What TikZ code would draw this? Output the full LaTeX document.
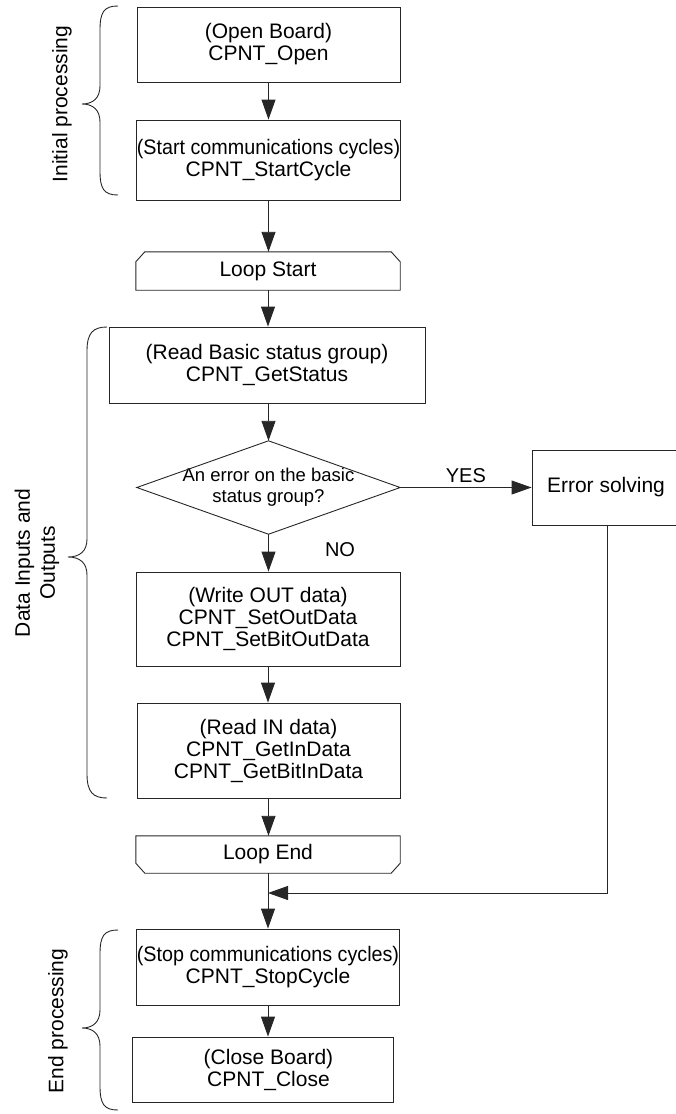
\documentclass[tikz,border=0pt]{standalone}
\usepackage{fontspec}
\setmainfont{Liberation Sans}
\usepackage{graphicx}
\usetikzlibrary{arrows.meta,calc}
\newcommand\bxfont{\fontsize{21}{22}\selectfont}
\newcommand\dfont{\fontsize{18.5}{21}\selectfont}
\newcommand\sqz[1]{\scalebox{0.94}[1]{#1}}
\begin{document}
\begin{tikzpicture}[x=1pt,y=-1pt,
  box/.style={draw=black!85,line width=0.9pt,rectangle,inner sep=0pt,align=center,font=\bxfont},
  ghost/.style={rectangle,inner sep=0pt,align=center,font=\bxfont},
  arr/.style={draw=black!85,line width=0.9pt,-{Triangle[length=20pt,width=14pt]}},
  ln/.style={draw=black!85,line width=0.9pt},
  brace/.style={draw=black!85,line width=0.9pt},
  side/.style={rotate=90,font=\bxfont,align=center},
  lbl/.style={font=\fontsize{20}{22}\selectfont}]
\useasboundingbox (0,0) rectangle (676,1114);

% boxes
\node[box,minimum width=263pt,minimum height=75pt] (b1) at (268.5,44.5) {(Open Board)\\CPNT\_Open};
\node[box,minimum width=263pt,minimum height=80pt] (b2) at (268.5,160) {\sqz{(Start communications cycles)}\\CPNT\_StartCycle};
\node[ghost,minimum width=264pt,minimum height=38pt] (ls) at (268,271) {Loop Start};
\node[box,minimum width=316pt,minimum height=76pt] (b3) at (267,365) {(Read Basic status group)\\CPNT\_GetStatus};
\node[ghost,font=\dfont,minimum width=263pt,minimum height=93pt] (dia) at (268.5,487.5) {An error on the basic\\status group?};
\node[box,minimum width=148pt,minimum height=75pt] (err) at (606,487.5) {Error solving};
\node[box,minimum width=264pt,minimum height=94pt] (b4) at (268,619) {(Write OUT data)\\CPNT\_SetOutData\\CPNT\_SetBitOutData};
\node[box,minimum width=263pt,minimum height=95pt] (b5) at (268.5,750.5) {(Read IN data)\\CPNT\_GetInData\\CPNT\_GetBitInData};
\node[ghost,minimum width=264pt,minimum height=37pt] (le) at (268,854.5) {Loop End};
\node[box,minimum width=262pt,minimum height=76pt] (stop) at (268,967) {\sqz{(Stop communications cycles)}\\CPNT\_StopCycle};
\node[box,minimum width=261pt,minimum height=65pt] (close) at (262.5,1069.5) {};
\node[ghost] (closetxt) at (268.5,1069.5) {(Close Board)\\CPNT\_Close};

% special shapes
\draw[ln] (ls.south west) -- ($(ls.north west)+(0,10)$) -- ($(ls.north west)+(9,0)$) -- ($(ls.north east)+(-9,0)$) -- ($(ls.north east)+(0,10)$) -- (ls.south east) -- cycle;
\draw[ln] (le.north west) -- (le.north east) -- ($(le.south east)+(0,-10)$) -- ($(le.south east)+(-9,0)$) -- ($(le.south west)+(9,0)$) -- ($(le.south west)+(0,-10)$) -- cycle;
\draw[ln] (dia.north) -- (dia.east) -- (dia.south) -- (dia.west) -- cycle;

% connectors
\coordinate (join) at (268,893);
\draw[arr] (b1.south) -- (b2.north);
\draw[arr] (b2.south) -- (b2.south |- ls.north);
\draw[arr] (ls.south) -- (ls.south |- b3.north);
\draw[arr] (dia.north |- b3.south) -- (dia.north);
\draw[arr] (dia.south) -- (dia.south |- b4.north);
\draw[arr] (dia.east) -- (err.west) node[lbl,pos=0.5,above=1pt] {YES};
\node[lbl] (no) at (340,550) {NO};
\draw[arr] (b4.south) -- (b4.south |- b5.north);
\draw[arr] (b5.south) -- (b5.south |- le.north);
\draw[arr] (le.south) -- (le.south |- stop.north);
\draw[arr] ($(err.south)+(1,0)$) |- (join);
\draw[arr] (stop.south) -- (stop.south |- close.north);

% braces
\draw[brace] (118,6) .. controls (104,6) and (100,12) .. (100,30) -- (100,86)
  .. controls (100,98) and (93,104) .. (82,104)
  .. controls (93,104) and (100,110) .. (100,122) -- (100,171)
  .. controls (100,189) and (104,195) .. (118,195);
\draw[brace] (107,327) .. controls (93,327) and (87,333) .. (87,351) -- (87,539)
  .. controls (87,551) and (80,557) .. (68,557)
  .. controls (80,557) and (87,563) .. (87,575) -- (87,774)
  .. controls (87,792) and (93,798) .. (107,798);
\draw[brace] (118,930) .. controls (104,930) and (100,936) .. (100,954) -- (100,1010)
  .. controls (100,1022) and (93,1028) .. (82,1028)
  .. controls (93,1028) and (100,1034) .. (100,1046) -- (100,1086)
  .. controls (100,1104) and (104,1110) .. (118,1110);

% side labels
\node[side] (lab1) at (62,104) {Initial processing};
\node[side,font=\fontsize{21}{25}\selectfont] (lab2) at (37,563) {Data Inputs and\\Outputs};
\node[side] (lab3) at (58,1021) {End processing};
\end{tikzpicture}
\end{document}
